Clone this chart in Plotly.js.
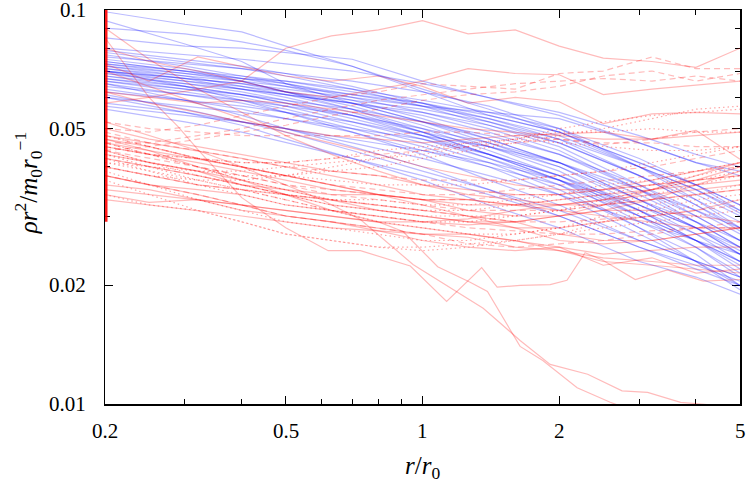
<!DOCTYPE html>
<html><head><meta charset="utf-8">
<script src="https://cdn.plot.ly/plotly-3.0.1.min.js"></script>
<style>html,body{margin:0;padding:0;background:#fff}#chart{width:748px;height:480px}</style>
</head><body><div id="chart"></div>
<script>
// ---------- data ----------
const xTickVals = [0.2,0.5,1,2,5];
const xTickText = ['0.2','0.5','1','2','5'];
const xMinorVals = [0.3,0.4,0.6,0.7,0.8,0.9,3,4];
const yTickVals = [0.01,0.02,0.05,0.1];
const yTickText = ['0.01','0.02','0.05','0.1'];
const yMinorVals = [0.03,0.04,0.06,0.07,0.08,0.09];

const blueX = [0.2,0.3,0.4,0.5,0.7,1.0,1.4,2.0,3.0,4.0,5.0];
const blueY = [
[0.099,0.092,0.088,0.081,0.072,0.062,0.054,0.049,0.041,0.036,0.032],
[0.094,0.082,0.074,0.065,0.058,0.052,0.047,0.041,0.033,0.028,0.024],
[0.090,0.087,0.083,0.079,0.072,0.063,0.056,0.049,0.040,0.035,0.031],
[0.085,0.081,0.080,0.078,0.075,0.066,0.060,0.054,0.046,0.041,0.038],
[0.080,0.077,0.075,0.073,0.070,0.065,0.060,0.055,0.048,0.043,0.040],
[0.078,0.074,0.071,0.068,0.063,0.057,0.051,0.045,0.036,0.030,0.026],
[0.077,0.072,0.068,0.065,0.060,0.055,0.050,0.044,0.035,0.029,0.025],
[0.076,0.073,0.071,0.069,0.066,0.062,0.057,0.050,0.040,0.033,0.028],
[0.075,0.071,0.067,0.064,0.059,0.053,0.047,0.041,0.033,0.028,0.024],
[0.074,0.070,0.067,0.065,0.061,0.057,0.053,0.048,0.040,0.034,0.030],
[0.073,0.069,0.066,0.062,0.057,0.051,0.045,0.039,0.031,0.026,0.022],
[0.072,0.068,0.064,0.061,0.056,0.050,0.044,0.038,0.030,0.025,0.021],
[0.072,0.069,0.067,0.066,0.063,0.059,0.055,0.050,0.042,0.036,0.032],
[0.071,0.067,0.063,0.060,0.055,0.049,0.043,0.037,0.029,0.025,0.0215],
[0.070,0.066,0.063,0.061,0.058,0.054,0.049,0.043,0.035,0.030,0.026],
[0.070,0.067,0.065,0.062,0.058,0.052,0.046,0.040,0.032,0.027,0.023],
[0.069,0.065,0.062,0.059,0.054,0.048,0.042,0.036,0.028,0.024,0.020],
[0.068,0.064,0.061,0.058,0.054,0.049,0.045,0.040,0.033,0.029,0.026],
[0.068,0.065,0.063,0.061,0.058,0.055,0.051,0.046,0.038,0.032,0.028],
[0.067,0.063,0.060,0.057,0.052,0.047,0.042,0.037,0.031,0.027,0.024],
[0.066,0.062,0.059,0.056,0.051,0.046,0.041,0.035,0.028,0.023,0.0195],
[0.066,0.063,0.061,0.059,0.056,0.052,0.048,0.043,0.036,0.031,0.027],
[0.065,0.061,0.058,0.055,0.050,0.045,0.040,0.034,0.027,0.023,0.020],
[0.064,0.061,0.059,0.057,0.054,0.050,0.046,0.041,0.034,0.029,0.025],
[0.063,0.059,0.056,0.053,0.049,0.044,0.040,0.036,0.030,0.026,0.023],
[0.062,0.059,0.057,0.055,0.052,0.048,0.045,0.041,0.035,0.031,0.028],
[0.061,0.056,0.052,0.049,0.044,0.039,0.035,0.031,0.026,0.023,0.021],
[0.060,0.057,0.055,0.053,0.050,0.047,0.043,0.038,0.031,0.026,0.023],
[0.058,0.055,0.052,0.050,0.046,0.042,0.038,0.034,0.029,0.026,0.024],
[0.057,0.054,0.052,0.050,0.047,0.044,0.041,0.037,0.032,0.028,0.025],
[0.056,0.052,0.049,0.046,0.042,0.038,0.034,0.030,0.025,0.022,0.020],
[0.074,0.070,0.066,0.062,0.056,0.049,0.043,0.037,0.030,0.026,0.0225],
[0.079,0.075,0.072,0.069,0.064,0.058,0.052,0.046,0.038,0.033,0.029],
[0.071,0.068,0.066,0.064,0.061,0.058,0.054,0.049,0.041,0.036,0.031],
[0.069,0.066,0.064,0.062,0.059,0.056,0.052,0.047,0.040,0.035,0.0305],
[0.067,0.064,0.061,0.058,0.053,0.048,0.043,0.038,0.032,0.028,0.0245],
[0.060,0.055,0.051,0.047,0.042,0.037,0.032,0.028,0.023,0.021,0.019],
[0.073,0.070,0.068,0.066,0.062,0.058,0.053,0.047,0.038,0.032,0.0275],
[0.065,0.059,0.054,0.050,0.045,0.040,0.035,0.030,0.025,0.0225,0.0205],
[0.070,0.064,0.059,0.055,0.049,0.043,0.037,0.032,0.026,0.023,0.021],
[0.070,0.067,0.065,0.063,0.060,0.057,0.055,0.053,0.046,0.041,0.039]
];

const redX = [0.2,0.25,0.32,0.4,0.5,0.63,0.8,1.0,1.26,1.6,2.0,2.5,3.2,4.0,5.0];
const redSolidY = [
[0.058,0.060,0.063,0.066,0.080,0.086,0.089,0.094,0.087,0.089,0.081,0.0755,0.074,0.0715,0.080],
[0.073,0.066,0.076,0.072,0.068,0.066,0.068,0.064,0.058,0.060,0.0585,0.0515,0.0545,0.055,0.0545],
[0.080,0.074,0.070,0.066,0.062,0.060,0.063,0.066,0.071,0.069,0.0685,0.061,0.063,0.0645,0.066],
[0.062,0.058,0.055,0.052,0.050,0.048,0.047,0.046,0.047,0.048,0.0485,0.049,0.047,0.0495,0.0418],
[0.062,0.060,0.058,0.059,0.058,0.056,0.054,0.052,0.050,0.049,0.048,0.047,0.047,0.048,0.049],
[0.070,0.064,0.058,0.053,0.049,0.046,0.043,0.040,0.038,0.036,0.035,0.035,0.036,0.037,0.038],
[0.090,0.075,0.063,0.055,0.048,0.043,0.039,0.036,0.034,0.033,0.032,0.032,0.033,0.034,0.035],
[0.050,0.047,0.045,0.043,0.041,0.039,0.038,0.036,0.035,0.034,0.034,0.035,0.037,0.039,0.041],
[0.047,0.045,0.042,0.040,0.038,0.036,0.034,0.033,0.031,0.030,0.030,0.031,0.033,0.036,0.039],
[0.045,0.043,0.041,0.039,0.037,0.035,0.034,0.033,0.032,0.032,0.033,0.034,0.035,0.036,0.037],
[0.044,0.041,0.039,0.036,0.034,0.032,0.031,0.030,0.029,0.028,0.028,0.029,0.030,0.031,0.033],
[0.042,0.040,0.038,0.036,0.035,0.034,0.034,0.033,0.033,0.032,0.031,0.030,0.029,0.028,0.028],
[0.040,0.038,0.036,0.035,0.034,0.033,0.032,0.031,0.030,0.029,0.027,0.026,0.026,0.027,0.028],
[0.038,0.036,0.035,0.034,0.032,0.031,0.030,0.029,0.0285,0.029,0.030,0.031,0.031,0.030,0.029],
[0.035,0.034,0.033,0.032,0.031,0.030,0.029,0.028,0.027,0.026,0.025,0.024,0.0245,0.025,0.025],
[0.033,0.032,0.031,0.030,0.029,0.028,0.0275,0.027,0.027,0.026,0.0245,0.023,0.0225,0.022,0.0215],
[0.034,0.0325,0.033,0.032,0.031,0.030,0.029,0.029,0.0295,0.031,0.032,0.033,0.035,0.037,0.040],
[0.048,0.046,0.044,0.042,0.040,0.038,0.036,0.034,0.033,0.032,0.032,0.033,0.034,0.035,0.036],
[0.046,0.044,0.042,0.040,0.038,0.036,0.034,0.032,0.030,0.028,0.026,0.0255,0.026,0.027,0.028],
[0.043,0.041,0.039,0.037,0.035,0.033,0.031,0.030,0.029,0.029,0.030,0.032,0.035,0.038,0.041],
[0.038,0.036,0.034,0.032,0.030,0.029,0.028,0.027,0.0265,0.025,0.0245,0.0235,0.023,0.0225,0.0225],
[0.036,0.035,0.033,0.031,0.030,0.029,0.0275,0.026,0.025,0.0245,0.025,0.0225,0.0235,0.0215,0.022]
];
const redDashY = [
[0.050,0.049,0.051,0.054,0.057,0.060,0.062,0.065,0.064,0.063,0.069,0.070,0.076,0.071,0.071],
[0.046,0.046,0.048,0.050,0.053,0.056,0.059,0.061,0.063,0.065,0.066,0.067,0.066,0.068,0.066],
[0.044,0.045,0.047,0.049,0.051,0.054,0.056,0.059,0.061,0.062,0.064,0.068,0.070,0.066,0.069],
[0.045,0.043,0.042,0.041,0.041,0.042,0.043,0.044,0.045,0.046,0.047,0.0455,0.047,0.049,0.050],
[0.052,0.050,0.049,0.048,0.048,0.048,0.048,0.049,0.049,0.048,0.047,0.046,0.046,0.045,0.045],
[0.048,0.045,0.042,0.040,0.038,0.036,0.035,0.034,0.034,0.035,0.036,0.037,0.038,0.039,0.040],
[0.046,0.043,0.040,0.038,0.036,0.035,0.034,0.033,0.033,0.034,0.034,0.035,0.036,0.037,0.038],
[0.044,0.042,0.040,0.038,0.036,0.034,0.033,0.032,0.031,0.031,0.031,0.032,0.033,0.034,0.035],
[0.042,0.040,0.038,0.036,0.034,0.033,0.032,0.031,0.030,0.029,0.029,0.0295,0.030,0.031,0.032],
[0.040,0.038,0.036,0.035,0.033,0.031,0.030,0.029,0.028,0.0275,0.027,0.027,0.0275,0.028,0.028],
[0.049,0.046,0.044,0.042,0.040,0.039,0.038,0.037,0.037,0.037,0.038,0.039,0.040,0.042,0.044],
[0.038,0.036,0.034,0.032,0.030,0.029,0.028,0.027,0.0255,0.025,0.0255,0.026,0.027,0.028,0.029]
];
const redDotY = [
[0.043,0.041,0.039,0.038,0.038,0.039,0.040,0.042,0.044,0.046,0.048,0.050,0.053,0.056,0.057],
[0.041,0.040,0.039,0.039,0.040,0.041,0.042,0.043,0.045,0.047,0.050,0.052,0.054,0.055,0.056],
[0.040,0.038,0.037,0.037,0.038,0.040,0.042,0.044,0.046,0.047,0.049,0.049,0.050,0.049,0.049],
[0.045,0.043,0.042,0.041,0.041,0.042,0.044,0.045,0.046,0.047,0.046,0.045,0.044,0.044,0.045],
[0.046,0.043,0.040,0.037,0.035,0.033,0.032,0.031,0.031,0.032,0.033,0.034,0.036,0.038,0.040],
[0.044,0.041,0.038,0.036,0.034,0.032,0.031,0.030,0.030,0.030,0.031,0.033,0.035,0.037,0.039],
[0.042,0.039,0.036,0.034,0.032,0.031,0.030,0.029,0.029,0.030,0.031,0.032,0.034,0.036,0.038],
[0.039,0.036,0.033,0.031,0.029,0.028,0.027,0.026,0.026,0.027,0.028,0.030,0.032,0.034,0.036],
[0.037,0.034,0.031,0.029,0.027,0.026,0.025,0.025,0.0255,0.026,0.027,0.029,0.031,0.033,0.034],
[0.041,0.039,0.037,0.035,0.034,0.033,0.033,0.032,0.032,0.033,0.034,0.036,0.037,0.039,0.041],
[0.048,0.045,0.042,0.040,0.038,0.037,0.036,0.036,0.036,0.037,0.038,0.039,0.041,0.043,0.045],
[0.043,0.040,0.037,0.035,0.033,0.031,0.029,0.028,0.027,0.027,0.028,0.029,0.030,0.032,0.033],
[0.034,0.032,0.031,0.029,0.027,0.026,0.025,0.0245,0.025,0.026,0.027,0.028,0.029,0.030,0.031]
];
// red solid profiles with their own radii
const redFreeX = [
[0.2,0.25,0.29,0.32,0.40,0.50,0.62,0.73,0.94,1.13,1.35,1.46,1.64,1.91,2.08,2.28,2.49,2.70,2.94,3.46,4.15,5.0],
[0.2,0.25,0.32,0.4,0.5,0.63,0.8,0.906,1.08,1.27,1.39,1.64,1.84,2.19,2.59,3.0],
[0.2,0.25,0.32,0.4,0.5,0.6,0.73,0.953,1.36,1.64,1.91,2.31,2.75,3.13,3.70,5.0]
];
const redFreeY = [
[0.085,0.060,0.0505,0.0443,0.0334,0.028,0.0245,0.0245,0.0224,0.0182,0.0222,0.0198,0.0200,0.0201,0.0206,0.0242,0.0232,0.0219,0.0207,0.0219,0.0205,0.0207],
[0.047,0.044,0.040,0.037,0.034,0.031,0.029,0.0274,0.0223,0.0204,0.0193,0.0140,0.0129,0.0110,0.0101,0.0095],
[0.052,0.048,0.044,0.040,0.036,0.033,0.0294,0.0226,0.0175,0.0145,0.0126,0.0119,0.0108,0.0107,0.0101,0.0098]
];
// steep inner parts of the red profiles, piled up on the r = 0.2 edge
const edgeX = [0.2, 0.2];
const edgeY = [0.029, 0.1];

// ---------- traces ----------
const traces = [];
const blueLine = {color:'rgba(0,0,255,0.27)', width:1.2};
const redCol = 'rgba(255,0,0,0.27)';
blueY.forEach(y => traces.push({x:blueX, y:y, type:'scatter', mode:'lines', line:blueLine, hoverinfo:'skip'}));
redSolidY.forEach(y => traces.push({x:redX, y:y, type:'scatter', mode:'lines', line:{color:redCol, width:1.2}, hoverinfo:'skip'}));
redFreeY.forEach((y,i) => traces.push({x:redFreeX[i], y:y, type:'scatter', mode:'lines', line:{color:redCol, width:1.2}, hoverinfo:'skip'}));
redDashY.forEach(y => traces.push({x:redX, y:y, type:'scatter', mode:'lines', line:{color:redCol, width:1.2, dash:'6px,4px'}, hoverinfo:'skip'}));
redDotY.forEach(y => traces.push({x:redX, y:y, type:'scatter', mode:'lines', line:{color:'rgba(255,0,0,0.35)', width:1.2, dash:'1.5px,3px'}, hoverinfo:'skip'}));
traces.push({x:edgeX, y:edgeY, type:'scatter', mode:'lines', line:{color:'rgba(255,0,0,0.9)', width:5}, hoverinfo:'skip'});

// ---------- tick labels and titles as annotations ----------
const F = 'Liberation Serif';
const TICK_SIZE = 21, TITLE_SIZE = 25;
const ann = [];
xTickVals.forEach((v,i) => ann.push({text:xTickText[i], xref:'x', x:Math.log10(v), yref:'paper', y:0, xanchor:'center', yanchor:'top', yshift:-13, showarrow:false, font:{family:F, size:TICK_SIZE, color:'black'}}));
yTickVals.forEach((v,i) => ann.push({text:yTickText[i], xref:'paper', x:0, yref:'y', y:Math.log10(v), xanchor:'right', yanchor:'middle', xshift:-17, showarrow:false, font:{family:F, size:TICK_SIZE, color:'black'}}));
ann.push({text:'\u200B<i>r</i>/<i>r</i><sub>0</sub>', xref:'paper', yref:'paper', x:0.5, y:-0.16, xanchor:'center', yanchor:'middle', showarrow:false, font:{family:F, size:TITLE_SIZE, color:'black'}});
ann.push({text:'\u200B<i>ρr</i><sup>2</sup>/<i>m</i><sub>0</sub><i>r</i><sub>0</sub><sup>−1</sup>', xref:'paper', yref:'paper', x:-0.121, y:0.561, xanchor:'center', yanchor:'middle', textangle:-90, showarrow:false, font:{family:F, size:TITLE_SIZE, color:'black'}});

const layout = {
  width:748, height:480,
  margin:{l:105, r:8, t:10, b:76},
  showlegend:false,
  font:{family:F, size:20},
  xaxis:{
    type:'log', range:[Math.log10(0.2), Math.log10(5)],
    tickmode:'array', tickvals:xTickVals, showticklabels:false,
    ticks:'inside', ticklen:8, tickwidth:1, tickcolor:'black',
    showline:true, linecolor:'black', linewidth:1.5, mirror:'ticks',
    showgrid:false, zeroline:false, layer:'below traces',
    minor:{tickmode:'array', tickvals:xMinorVals, ticks:'inside', ticklen:5, tickwidth:1, tickcolor:'black', showgrid:false}
  },
  yaxis:{
    type:'log', range:[-2, -1],
    tickmode:'array', tickvals:yTickVals, showticklabels:false,
    ticks:'inside', ticklen:8, tickwidth:1, tickcolor:'black',
    showline:true, linecolor:'black', linewidth:1.5, mirror:'ticks',
    showgrid:false, zeroline:false, layer:'below traces',
    minor:{tickmode:'array', tickvals:yMinorVals, ticks:'inside', ticklen:5, tickwidth:1, tickcolor:'black', showgrid:false}
  },
  annotations:ann
};

// make sure every text element really carries the serif face and its size
function fixFonts(gd) {
  gd.querySelectorAll('text.annotation-text').forEach(t => {
    const isTitle = /[rρm]/.test(t.textContent);
    const size = isTitle ? TITLE_SIZE : TICK_SIZE;
    t.setAttribute('font-family', F);
    t.setAttribute('font-size', size);
    t.style.setProperty('font-family', '"' + F + '"', 'important');
    t.style.setProperty('font-size', size + 'px', 'important');
  });
}
Plotly.newPlot('chart', traces, layout, {staticPlot:true}).then(fixFonts);
</script>
</body></html>
